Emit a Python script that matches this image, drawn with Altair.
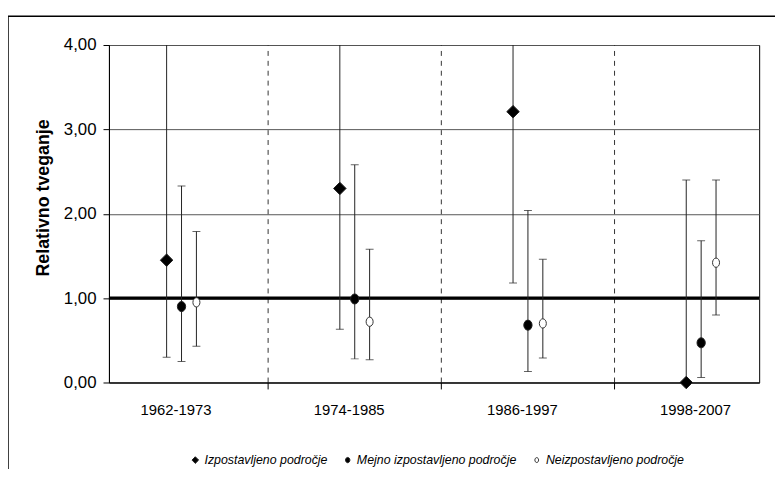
import altair as alt
import pandas as pd

periods = ["1962-1973", "1974-1985", "1986-1997", "1998-2007"]
series = ["Izpostavljeno področje", "Mejno izpostavljeno področje", "Neizpostavljeno področje"]

est_izp = [1.45, 2.30, 3.21, 0.00]
low_izp = [0.30, 0.63, 1.18, 0.00]
high_izp = [6.90, 8.40, 8.70, 2.40]

est_mej = [0.90, 0.99, 0.68, 0.47]
low_mej = [0.25, 0.28, 0.13, 0.06]
high_mej = [2.33, 2.58, 2.04, 1.68]

est_neiz = [0.95, 0.72, 0.70, 1.42]
low_neiz = [0.43, 0.27, 0.29, 0.80]
high_neiz = [1.79, 1.58, 1.46, 2.40]

reference = [1.0]

W, H = 657, 341
offsets = [-0.086, 0.0, 0.086]

rows = []
for s_i, (name, est, low, high) in enumerate(zip(
        series,
        [est_izp, est_mej, est_neiz],
        [low_izp, low_mej, low_neiz],
        [high_izp, high_mej, high_neiz])):
    for p_i, p in enumerate(periods):
        rows.append({"period": p, "series": name, "pos": p_i + 1 + offsets[s_i],
                     "est": est[p_i], "low": low[p_i], "high": high[p_i]})
df = pd.DataFrame(rows)
sep_df = pd.DataFrame({"sep": [i + 1.5 for i in range(len(periods) - 1)]})
ref_df = pd.DataFrame({"ref": reference})
frame_df = pd.DataFrame({"k": [0]})

xscale = alt.Scale(domain=[0.581, 4.335], nice=False, zero=False)
yscale = alt.Scale(domain=[0, 4], nice=False, zero=True)

label_list = "[" + ",".join("'" + p + "'" for p in periods) + "]"
FONT = "Liberation Sans"

xaxis = alt.Axis(values=[i + 1 - 0.035 for i in range(len(periods))],
                 labelExpr=label_list + "[round(datum.value)-1]",
                 ticks=False, grid=False, domainColor="black", domainWidth=1,
                 labelFont=FONT, labelFontSize=15, labelColor="black",
                 labelPadding=20, title=None)
yaxis = alt.Axis(values=[0, 1, 2, 3, 4], labelExpr="replace(format(datum.value,'.2f'),'.',',')",
                 grid=True, gridColor="#555", gridWidth=1, domainColor="black",
                 tickColor="black", tickSize=6, labelPadding=7,
                 labelFont=FONT, labelFontSize=17, labelColor="black",
                 title="Relativno tveganje", titleFont=FONT, titleFontSize=18,
                 titleFontWeight="bold", titleColor="black", titleX=-66, titleY=154,
                 titleBaseline="middle", titleAlign="center", titleAngle=270)

frame = alt.Chart(frame_df).mark_rect(fillOpacity=0, stroke="black", strokeWidth=1.5).encode(
    x=alt.value(-102), x2=alt.value(W + 60), y=alt.value(-29), y2=alt.value(H + 200))

seps = alt.Chart(sep_df).mark_rule(color="#333", strokeDash=[5, 5], strokeWidth=1).encode(
    x=alt.X("sep:Q", scale=xscale, axis=xaxis), y=alt.datum(0, scale=yscale), y2=alt.datum(4))

sep_ticks = alt.Chart(sep_df).mark_rule(color="black", strokeWidth=1).encode(
    x=alt.X("sep:Q", scale=xscale), y=alt.value(H), y2=alt.value(H + 7))

refline = alt.Chart(ref_df).mark_rule(color="black", strokeWidth=3.5).encode(
    y=alt.Y("ref:Q", scale=yscale, axis=yaxis))

whisk = alt.Chart(df).mark_rule(color="#222", strokeWidth=1, clip=True).encode(
    x=alt.X("pos:Q", scale=xscale), y=alt.Y("low:Q", scale=yscale), y2="high:Q")

cap_lo = alt.Chart(df).mark_tick(color="#222", orient="horizontal", size=8, thickness=1, clip=True).encode(
    x=alt.X("pos:Q", scale=xscale), y=alt.Y("low:Q", scale=yscale))
cap_hi = alt.Chart(df).mark_tick(color="#222", orient="horizontal", size=8, thickness=1, clip=True).encode(
    x=alt.X("pos:Q", scale=xscale), y=alt.Y("high:Q", scale=yscale))

diamond = "M0,-1L1,0L0,1L-1,0Z"
ell_fill = "M-0.66,0A0.66,0.8 0 1,0 0.66,0A0.66,0.8 0 1,0 -0.66,0Z"
ell_open = "M-0.56,0A0.56,0.74 0 1,0 0.56,0A0.56,0.74 0 1,0 -0.56,0Z"

legend = alt.Legend(title=None, orient="none", legendX=81, legendY=413,
                    direction="horizontal", columnPadding=14, labelOffset=3, labelLimit=400,
                    symbolSize=45, symbolStrokeWidth=1,
                    labelFont=FONT, labelFontSize=12.5,
                    labelFontStyle="italic", labelColor="black")

points = alt.Chart(df).mark_point(filled=True, strokeWidth=1, opacity=1, size=160).encode(
    x=alt.X("pos:Q", scale=xscale),
    y=alt.Y("est:Q", scale=yscale),
    shape=alt.Shape("series:N", scale=alt.Scale(domain=series, range=[diamond, ell_fill, ell_open]),
                    legend=legend),
    fill=alt.Fill("series:N", scale=alt.Scale(domain=series, range=["black", "black", "white"]),
                  legend=legend),
    stroke=alt.Stroke("series:N", scale=alt.Scale(domain=series, range=["#222", "#222", "#333"]),
                      legend=legend),
)

chart = alt.layer(frame, seps, sep_ticks, refline, whisk, cap_lo, cap_hi, points).properties(
    width=W, height=H,
    autosize=alt.AutoSizeParams(type="none"),
    padding={"left": 102, "top": 35, "right": 16, "bottom": 85},
    background="white",
).configure_view(stroke="black", strokeWidth=1)

chart.save("out.html", embed_options={"renderer": "svg", "actions": False})
